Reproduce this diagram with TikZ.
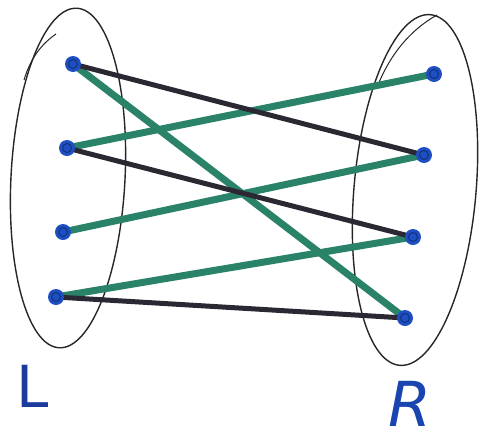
\documentclass[tikz,border=0pt]{standalone}
\usepackage{fontspec}
\setmainfont{DejaVu Sans}
\begin{document}
\begin{tikzpicture}[x=1pt,y=-1pt,
  greenedge/.style={draw=edgegreen,line width=7pt,line cap=round},
  darkedge/.style={draw=edgedark,line width=5pt,line cap=round},
  setline/.style={draw=black!85,line width=1.4pt},
  lbl/.style={text=lblblue,font=\fontsize{58}{58}\selectfont}
]
\definecolor{dotblue}{HTML}{1E4FC2}
\definecolor{edgegreen}{HTML}{2A8268}
\definecolor{edgedark}{HTML}{2B2833}
\definecolor{lblblue}{HTML}{1A45B0}
\definecolor{lbldark}{HTML}{1B3A9C}
\useasboundingbox (0,0) rectangle (480,440);
% sets
\draw[setline,rotate around={-3:(68,178)}] (68,178) ellipse [x radius=57,y radius=170];
\draw[setline,rotate around={-5:(415,190)}] (415,190) ellipse [x radius=61,y radius=176];
\draw[setline,line width=1pt] (56,34) .. controls (40,45) and (30,60) .. (24,80);
\draw[setline,line width=1pt] (437,15) .. controls (410,30) and (390,55) .. (378,85);
% nodes
\coordinate (l1) at (73,64);
\coordinate (l2) at (67,148);
\coordinate (l3) at (63,232);
\coordinate (l4) at (56,297);
\coordinate (r1) at (434,74);
\coordinate (r2) at (424,155);
\coordinate (r3) at (413,237);
\coordinate (r4) at (405,318);
% edges
\draw[greenedge] (l1) -- (r4);
\draw[greenedge] (l2) -- (r1);
\draw[greenedge] (l3) -- (r2);
\draw[greenedge] (l4) -- (r3);
\draw[darkedge] (l1) -- (r2);
\draw[darkedge] (l2) -- (r3);
\draw[darkedge] (l4) -- (r4);
% dots
\foreach \n in {l1,l2,l3,l4,r1,r2,r3,r4} {
  \fill[dotblue] (\n) circle (8pt);
  \draw[dotblue!60!black,line width=0.9pt] (\n) circle (4.5pt);
}
% labels
\node[lbl,text=lbldark] (labL) at (33,386) {L};
\node[lbl,font=\fontsize{62}{62}\selectfont\itshape] (labR) at (410,404) {R};
\end{tikzpicture}
\end{document}
